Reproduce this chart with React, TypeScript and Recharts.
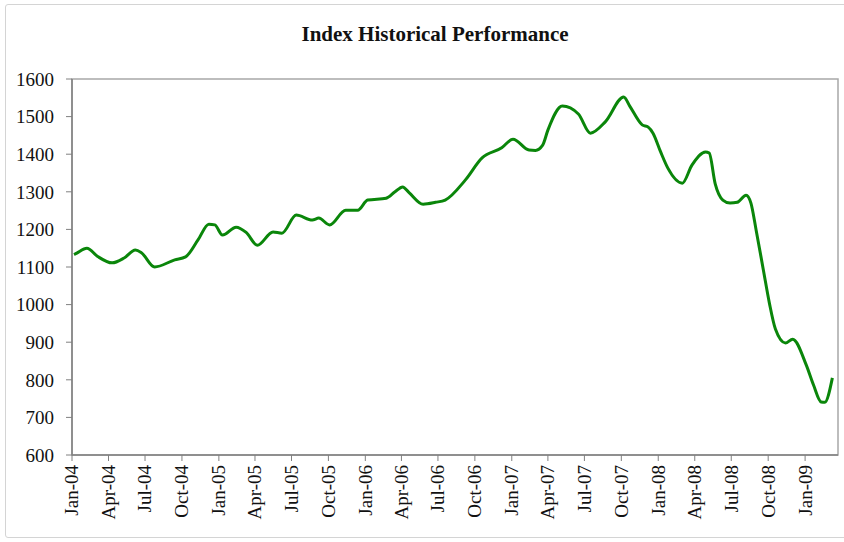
import React from "react";
import { LineChart, Line, XAxis, YAxis, ReferenceArea } from "recharts";

const dates = [
  "2004-01-06", "2004-01-13", "2004-02-07", "2004-03-05", "2004-04-10", "2004-05-10", "2004-06-07", "2004-06-22",
  "2004-07-25", "2004-09-13", "2004-10-10", "2004-11-10", "2004-12-07", "2004-12-22", "2005-01-10",
  "2005-02-13", "2005-03-10", "2005-04-07", "2005-05-16", "2005-06-07", "2005-07-13", "2005-08-22",
  "2005-09-07", "2005-10-04", "2005-11-13", "2005-12-13", "2006-01-07", "2006-02-22", "2006-03-16",
  "2006-04-04", "2006-04-20", "2006-05-25", "2006-06-25", "2006-07-19", "2006-09-07", "2006-10-19",
  "2006-12-07", "2007-01-04", "2007-02-13", "2007-03-01", "2007-03-19", "2007-04-01", "2007-05-07",
  "2007-06-16", "2007-07-16", "2007-08-22", "2007-10-07", "2007-10-22", "2007-11-22", "2007-12-07",
  "2007-12-19", "2008-01-07", "2008-01-25", "2008-03-01", "2008-03-25", "2008-04-28", "2008-05-07",
  "2008-05-22", "2008-06-10", "2008-06-28", "2008-07-16", "2008-08-07", "2008-08-19", "2008-09-01",
  "2008-09-19", "2008-10-04", "2008-10-19", "2008-11-13", "2008-12-01", "2009-01-04", "2009-01-22",
  "2009-02-10", "2009-02-19", "2009-03-10",
];

const indexValues = [
  1133, 1137, 1150, 1128, 1111, 1124, 1145, 1138,
  1100, 1119, 1127, 1172, 1214, 1212, 1185,
  1206, 1192, 1158, 1193, 1190, 1238, 1225,
  1230, 1212, 1251, 1251, 1278, 1283, 1300,
  1313, 1298, 1267, 1272, 1278, 1331, 1390,
  1417, 1440, 1411, 1410, 1424, 1464, 1528,
  1507, 1456, 1486, 1552, 1528, 1478, 1472,
  1456, 1406, 1363, 1323, 1371, 1406, 1403,
  1321, 1278, 1270, 1272, 1291, 1270, 1198,
  1092, 1004, 935, 898, 908, 839, 786,
  741, 740, 805,
];

const tickDates = [
  "2004-01-01", "2004-04-01", "2004-07-01", "2004-10-01",
  "2005-01-01", "2005-04-01", "2005-07-01", "2005-10-01",
  "2006-01-01", "2006-04-01", "2006-07-01", "2006-10-01",
  "2007-01-01", "2007-04-01", "2007-07-01", "2007-10-01",
  "2008-01-01", "2008-04-01", "2008-07-01", "2008-10-01",
  "2009-01-01",
];
const tickLabels = [
  "Jan-04", "Apr-04", "Jul-04", "Oct-04",
  "Jan-05", "Apr-05", "Jul-05", "Oct-05",
  "Jan-06", "Apr-06", "Jul-06", "Oct-06",
  "Jan-07", "Apr-07", "Jul-07", "Oct-07",
  "Jan-08", "Apr-08", "Jul-08", "Oct-08",
  "Jan-09",
];
const yTicks = [600, 700, 800, 900, 1000, 1100, 1200, 1300, 1400, 1500, 1600];

const toTs = (d: string) => Date.parse(d + "T00:00:00Z");
const data = dates.map((d, i) => ({ t: toTs(d), v: indexValues[i] }));
const xTicks = tickDates.map(toTs);
const labelByTs: Record<number, string> = {};
xTicks.forEach((t, i) => (labelByTs[t] = tickLabels[i]));
const domainStart = toTs("2004-01-01");
const domainEnd = toTs("2009-03-24");

const FONT = "'Liberation Serif', 'Times New Roman', serif";

const XTick = (props: any) => {
  const { x, y, payload } = props;
  return (
    <g transform={`translate(${x},${y})`}>
      <text
        x={0}
        y={0}
        dy="0.34em"
        textAnchor="end"
        transform="rotate(-90)"
        fontFamily={FONT}
        fontSize={19}
        fill="#111"
      >
        {labelByTs[payload.value]}
      </text>
    </g>
  );
};

export default function App() {
  return (
    <div
      style={{
        position: "absolute",
        left: 0,
        top: 0,
        width: 844,
        height: 542,
        overflow: "hidden",
        background: "#fff",
      }}
    >
      <div
        style={{
          position: "absolute",
          left: 5,
          top: 4,
          width: 850,
          height: 532,
          border: "1px solid #d4d4d4",
          borderRadius: 3,
        }}
      />
      <div
        style={{
          position: "absolute",
          left: 26,
          top: 24,
          width: 818,
          textAlign: "center",
          fontFamily: FONT,
          fontWeight: "bold",
          fontSize: 21,
          lineHeight: "20px",
          color: "#111",
        }}
      >
        Index Historical Performance
      </div>
      <div style={{ position: "absolute", left: 0, top: 0 }}>
        <LineChart
          width={844}
          height={542}
          data={data}
          margin={{ top: 79, right: 6, bottom: 7, left: 0 }}
        >
          <ReferenceArea
            x1={domainStart}
            x2={domainEnd}
            y1={600}
            y2={1600}
            fill="none"
            fillOpacity={0}
            stroke="#a8a8a8"
            strokeWidth={1.5}
            ifOverflow="visible"
          />
          <XAxis
            dataKey="t"
            type="number"
            scale="linear"
            domain={[domainStart, domainEnd]}
            ticks={xTicks}
            interval={0}
            height={80}
            tickSize={6}
            tickMargin={4}
            axisLine={{ stroke: "#808080", strokeWidth: 1.5 }}
            tickLine={{ stroke: "#808080" }}
            tick={<XTick />}
            allowDataOverflow
          />
          <YAxis
            type="number"
            domain={[600, 1600]}
            ticks={yTicks}
            interval={0}
            width={72}
            tickSize={6}
            tickMargin={12}
            axisLine={{ stroke: "#808080", strokeWidth: 1.5 }}
            tickLine={{ stroke: "#808080" }}
            tick={{ fontFamily: FONT, fontSize: 19, fill: "#111" }}
            allowDataOverflow
          />
          <Line
            type="monotone"
            dataKey="v"
            stroke="#0a860a"
            strokeWidth={3}
            dot={false}
            isAnimationActive={false}
          />
        </LineChart>
      </div>
    </div>
  );
}
